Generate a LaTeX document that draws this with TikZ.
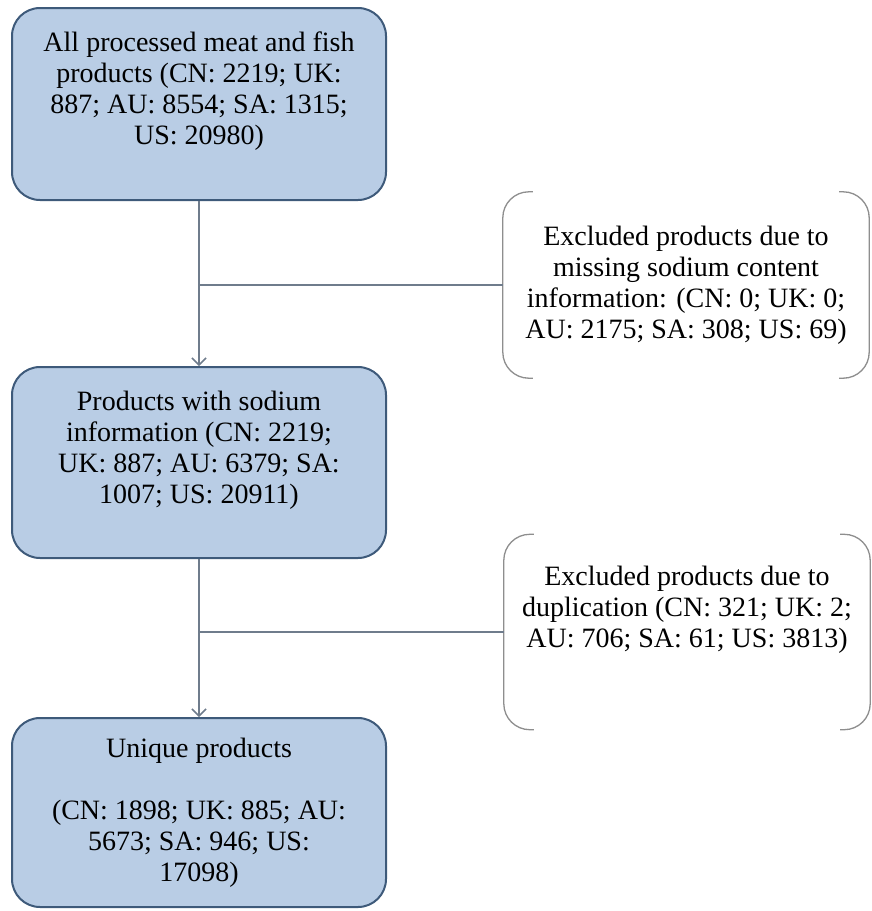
\documentclass[tikz,border=0pt]{standalone}
\usepackage{fontspec}
\setmainfont{Liberation Serif}
\usepackage{tikz}
\usetikzlibrary{arrows.meta, positioning, calc}
\definecolor{boxFill}{HTML}{B9CDE5}
\definecolor{boxEdge}{HTML}{3E5A7A}
\definecolor{connGray}{HTML}{6F7C8C}
\definecolor{brackGray}{HTML}{8E8E8E}
\tikzset{
  stagebox/.style={draw=boxEdge, fill=boxFill, line width=2pt, rounded corners=28pt,
    minimum width=374pt, align=center, inner sep=0pt},
  exclbox/.style={minimum width=366pt, align=center, inner sep=0pt},
  bracketline/.style={draw=brackGray, line width=1.3pt, rounded corners=26pt},
  flowline/.style={draw=connGray, line width=1.5pt},
  flowarrow/.style={flowline, -{Straight Barb[length=7pt,width=14pt]}}
}

\begin{document}
\begin{tikzpicture}[x=1pt, y=-1pt, font=\fontsize{28}{31}\selectfont]
  \useasboundingbox (0,0) rectangle (872,911);

  % stages
  \node[stagebox, minimum height=192pt] (box1) at (199,104)
    {All processed meat and fish\\products (CN: 2219; UK:\\887; AU: 8554; SA: 1315;\\US: 20980)\\\mbox{}};
  \node[stagebox, minimum height=191pt] (box2) at (199,462.5)
    {Products with sodium\\information (CN: 2219;\\UK: 887; AU: 6379; SA:\\1007; US: 20911)\\\mbox{}};
  \node[stagebox, minimum height=189pt] (box3) at (199,812.5)
    {Unique products\\[31pt](CN: 1898; UK: 885; AU:\\5673; SA: 946; US:\\17098)};

  % exclusions
  \node[exclbox, minimum height=186pt] (excl1) at (686,285)
    {Excluded products due to\\missing sodium content\\information: (CN: 0; UK: 0;\\AU: 2175; SA: 308; US: 69)};
  \node[exclbox, minimum height=195pt] (excl2) at (687,632)
    {Excluded products due to\\duplication (CN: 321; UK: 2;\\AU: 706; SA: 61; US: 3813)\\[20pt]\mbox{}};

  \foreach \e in {excl1, excl2} {
    \draw[bracketline] ([xshift=30pt]\e.north west) -- (\e.north west) -- (\e.south west) -- ([xshift=30pt]\e.south west);
    \draw[bracketline] ([xshift=-30pt]\e.north east) -- (\e.north east) -- (\e.south east) -- ([xshift=-30pt]\e.south east);
  }

  % connectors
  \draw[flowarrow] (box1) -- (box2);
  \draw[flowarrow] (box2) -- (box3);
  \coordinate (j1) at (box1.south |- excl1.west);
  \coordinate (j2) at (box2.south |- excl2.west);
  \draw[flowline] (j1) -- (excl1.west);
  \draw[flowline] (j2) -- (excl2.west);
\end{tikzpicture}
\end{document}
